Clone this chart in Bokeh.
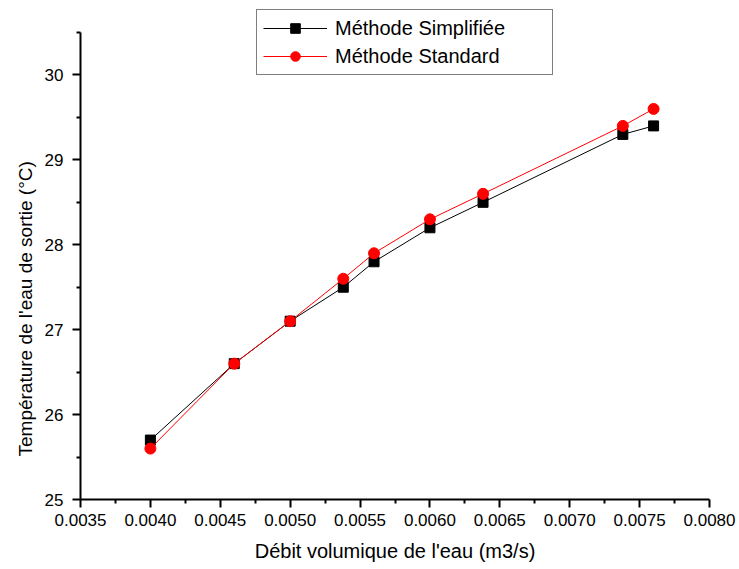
from bokeh.plotting import figure
from bokeh.models import (Range1d, FixedTicker, PrintfTickFormatter, Legend, LegendItem, Title)
from bokeh.embed import file_html
from bokeh.resources import INLINE

# Data
debit = [0.0040, 0.0046, 0.0050, 0.00538, 0.0056, 0.0060, 0.00638, 0.00738, 0.0076]
t_simplifiee = [25.7, 26.6, 27.1, 27.5, 27.8, 28.2, 28.5, 29.3, 29.4]
t_standard = [25.6, 26.6, 27.1, 27.6, 27.9, 28.3, 28.6, 29.4, 29.6]

x_ticks = [0.0035, 0.0040, 0.0045, 0.0050, 0.0055, 0.0060, 0.0065, 0.0070, 0.0075, 0.0080]
x_minor = [0.00375, 0.00425, 0.00475, 0.00525, 0.00575, 0.00625, 0.00675, 0.00725, 0.00775]
y_ticks = [25, 26, 27, 28, 29, 30]
y_minor = [25.5, 26.5, 27.5, 28.5, 29.5, 30.5]

label_simpl = "Méthode Simplifiée"
label_std = "Méthode Standard"
x_title = "Débit volumique de l'eau (m3/s)"
y_title = "Température de l'eau de sortie (°C)"

FONT = "Liberation Sans"

# y axis drawn from 25 to 30.5; frame extends a little above so the legend fits
p = figure(width=739, height=569, output_backend="svg", toolbar_location=None,
           x_range=Range1d(0.0035, 0.0080), y_range=Range1d(25, 30.818))
p.min_border_left = 80
p.min_border_right = 30
p.min_border_top = 5
p.min_border_bottom = 70
p.outline_line_color = None
p.xgrid.visible = False
p.ygrid.visible = False
p.background_fill_color = "white"
p.border_fill_color = "white"

for ax in (p.xaxis[0], p.yaxis[0]):
    ax.axis_line_width = 2
    ax.axis_line_color = "black"
    ax.major_tick_line_width = 2
    ax.minor_tick_line_width = 2
    ax.major_tick_line_color = "black"
    ax.minor_tick_line_color = "black"
    ax.major_tick_out = 8
    ax.major_tick_in = 0
    ax.minor_tick_out = 4
    ax.minor_tick_in = 0
    ax.major_label_text_font = FONT
    ax.major_label_text_font_size = "17px"
    ax.major_label_text_color = "black"

p.xaxis[0].ticker = FixedTicker(ticks=x_ticks, minor_ticks=x_minor)
p.xaxis[0].formatter = PrintfTickFormatter(format="%.4f")
p.xaxis[0].major_label_standoff = 6
p.xaxis[0].axis_label = x_title
p.xaxis[0].axis_label_text_font = FONT
p.xaxis[0].axis_label_text_font_size = "20px"
p.xaxis[0].axis_label_text_font_style = "normal"
p.xaxis[0].axis_label_text_color = "black"
p.xaxis[0].axis_label_standoff = 11

p.yaxis[0].ticker = FixedTicker(ticks=y_ticks, minor_ticks=y_minor)
p.yaxis[0].formatter = PrintfTickFormatter(format="%d")
p.yaxis[0].major_label_standoff = 9
p.yaxis[0].bounds = (25, 30.5)

ytitle = Title(text=y_title, align="left", offset=43, standoff=12,
               text_font=FONT, text_font_size="19px", text_font_style="normal",
               text_color="black")
p.add_layout(ytitle, "left")

l1 = p.line(debit, t_simplifiee, line_color="black", line_width=1)
s1 = p.scatter(debit, t_simplifiee, marker="square", size=10, fill_color="black", line_color="black")
l2 = p.line(debit, t_standard, line_color="red", line_width=1)
s2 = p.scatter(debit, t_standard, marker="circle", size=11, fill_color="red", line_color="red")

legend = Legend(items=[LegendItem(label=label_simpl, renderers=[l1, s1]),
                       LegendItem(label=label_std, renderers=[l2, s2])],
                location=(176, 424), orientation="vertical",
                border_line_color="black", border_line_width=1,
                background_fill_color="white", background_fill_alpha=1.0,
                padding=6, spacing=4, margin=0,
                glyph_width=64, glyph_height=24, label_height=24,
                label_width=211, label_standoff=8,
                label_text_font=FONT, label_text_font_size="20px",
                label_text_color="black", label_text_baseline="middle")
p.add_layout(legend, "center")

open("out.html", "w").write(file_html(p, INLINE))
